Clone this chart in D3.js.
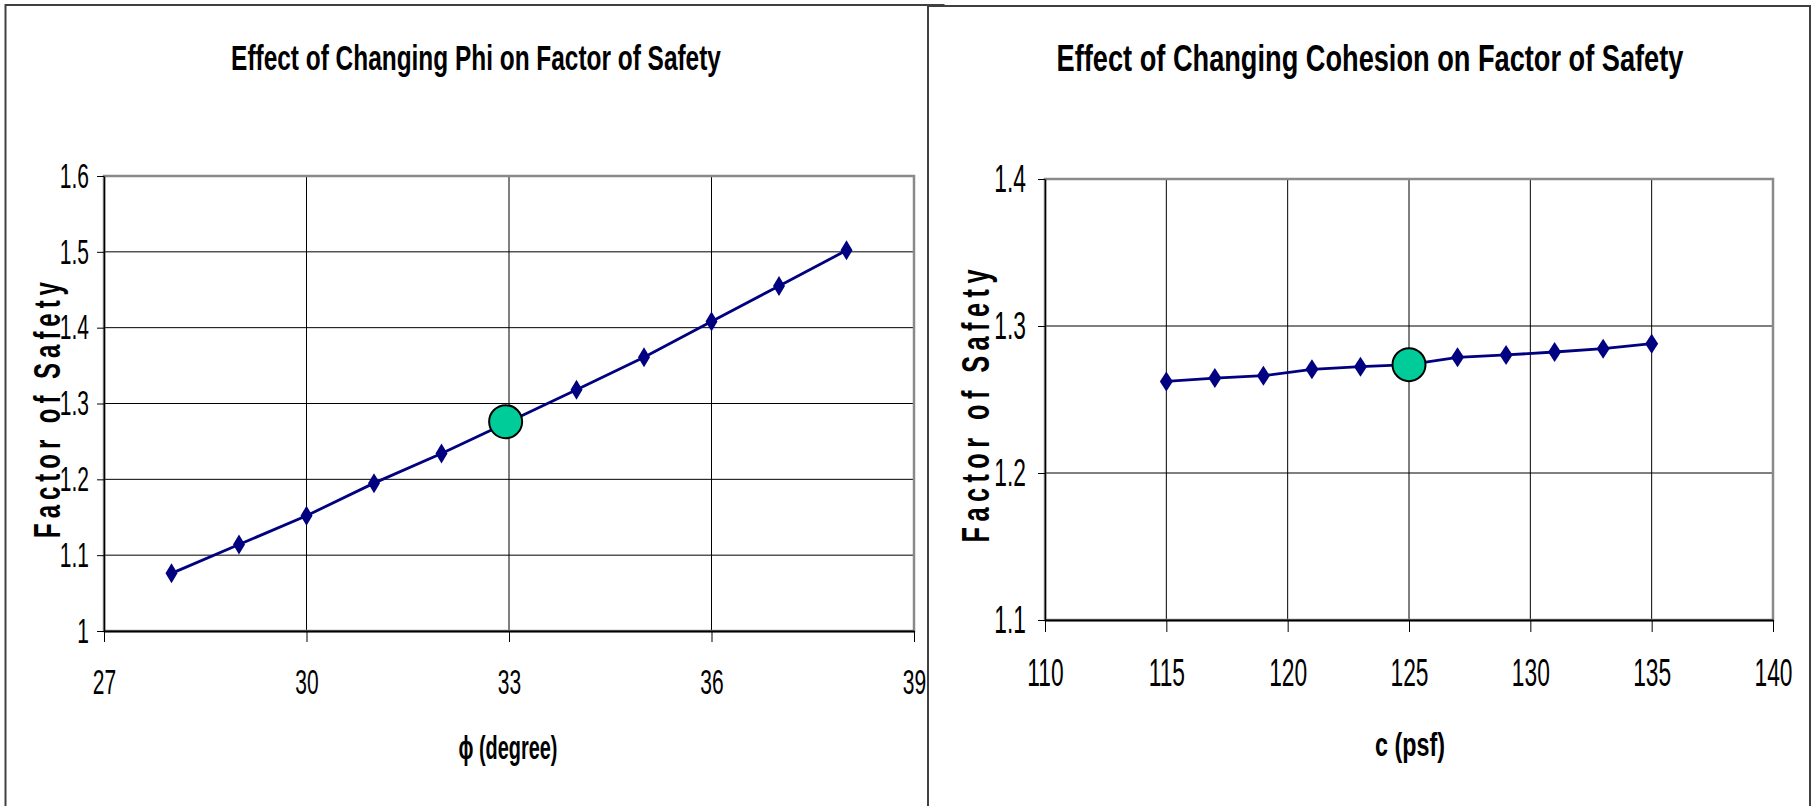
<!DOCTYPE html>
<html>
<head>
<meta charset="utf-8">
<script src="https://cdn.jsdelivr.net/npm/d3@7"></script>
<style>
  body { margin: 0; background: #fff; }
  svg { display: block; font-family: "Liberation Sans", Arial, sans-serif; }
</style>
</head>
<body>
<svg id="chart" width="1814" height="806"></svg>
<script>
// left chart: friction angle vs factor of safety
const phiValues = [28, 29, 30, 31, 32, 33, 34, 35, 36, 37, 38];
const phiFos = [1.076, 1.114, 1.152, 1.195, 1.234, 1.276, 1.318, 1.361, 1.408, 1.455, 1.502];
const phiBase = [32.95, 1.276];
const phiTicks = [27, 30, 33, 36, 39];
const phiFosTicks = [1, 1.1, 1.2, 1.3, 1.4, 1.5, 1.6];

// right chart: cohesion vs factor of safety
const cValues = [115, 117, 119, 121, 123, 125, 127, 129, 131, 133, 135];
const cFos = [1.2623, 1.2646, 1.2662, 1.2705, 1.2723, 1.2737, 1.2787, 1.2803, 1.2823, 1.2846, 1.288];
const cBase = [125, 1.2737];
const cTicks = [110, 115, 120, 125, 130, 135, 140];
const cFosTicks = [1.1, 1.2, 1.3, 1.4];

const svg = d3.select('#chart');
const K = 0.6; // narrow glyphs like the original

// panel frames
svg.append('rect')
  .attr('x', 5.5).attr('y', 5).attr('width', 938).attr('height', 820)
  .attr('fill', '#fff').attr('stroke', '#404040').attr('stroke-width', 2);
svg.append('rect')
  .attr('x', 928).attr('y', 6).attr('width', 882).attr('height', 820)
  .attr('fill', '#fff').attr('stroke', '#404040').attr('stroke-width', 2);

function squeeze(sel) {
  sel.each(function () {
    const t = d3.select(this);
    const x = +t.attr('x') || 0;
    t.attr('x', x / K).attr('transform', `scale(${K},1)`);
  });
}

// bold text squeezed to a given width, centred on cx
function narrowText(g, str, cx, y, size, width) {
  const t = g.append('text')
    .attr('text-anchor', 'middle')
    .attr('font-size', size).attr('font-weight', 'bold')
    .text(str);
  const k = width / t.node().getComputedTextLength();
  t.attr('transform', `translate(${cx},${y}) scale(${k},1)`);
  return t;
}

function drawChart(o) {
  const x = d3.scaleLinear().domain(o.xDomain).range([o.left, o.right]);
  const y = d3.scaleLinear().domain(o.yDomain).range([o.bottom, o.top]);
  const g = svg.append('g');

  // gridlines
  g.append('g').selectAll('line').data(o.yTicks).join('line')
    .attr('x1', o.left).attr('x2', o.right)
    .attr('y1', (d) => y(d)).attr('y2', (d) => y(d))
    .attr('stroke', '#000').attr('stroke-width', 1);
  g.append('g').selectAll('line').data(o.xTicks).join('line')
    .attr('x1', (d) => x(d)).attr('x2', (d) => x(d))
    .attr('y1', o.top).attr('y2', o.bottom)
    .attr('stroke', '#000').attr('stroke-width', 1);

  // plot area border
  g.append('rect')
    .attr('x', o.left).attr('y', o.top)
    .attr('width', o.right - o.left).attr('height', o.bottom - o.top)
    .attr('fill', 'none').attr('stroke', '#8a8a8a').attr('stroke-width', 2.5);

  // y axis
  const yAxis = g.append('g')
    .attr('transform', `translate(${o.left},0)`)
    .call(d3.axisLeft(y).tickValues(o.yTicks).tickSize(7).tickSizeOuter(0)
      .tickPadding(o.yPad).tickFormat(d3.format('')));
  yAxis.select('.domain').attr('stroke', '#000').attr('stroke-width', 1.5);
  yAxis.selectAll('.tick line').attr('stroke', '#000');
  yAxis.selectAll('text').attr('font-size', o.tickFont).attr('fill', '#000')
    .attr('font-family', '"Liberation Sans", Arial, sans-serif').call(squeeze);

  // x axis
  const xAxis = g.append('g')
    .attr('transform', `translate(0,${o.bottom})`)
    .call(d3.axisBottom(x).tickValues(o.xTicks).tickSize(o.xTick).tickSizeOuter(0)
      .tickPadding(o.xPad).tickFormat(d3.format('')));
  xAxis.select('.domain').attr('stroke', '#000').attr('stroke-width', 2);
  xAxis.selectAll('.tick line').attr('stroke', '#000');
  xAxis.selectAll('text').attr('font-size', o.tickFont).attr('fill', '#000')
    .attr('font-family', '"Liberation Sans", Arial, sans-serif').call(squeeze);

  // series line
  const pts = o.xs.map((v, i) => [v, o.ys[i]]);
  const line = d3.line().x((d) => x(d[0])).y((d) => y(d[1]));
  g.append('path')
    .datum(pts)
    .attr('d', line)
    .attr('fill', 'none')
    .attr('stroke', '#000080')
    .attr('stroke-width', 2.8);

  // diamond markers
  const w = o.dw / 2;
  g.append('g').selectAll('path').data(pts).join('path')
    .attr('d', `M0,-10L${w},0L0,10L${-w},0Z`)
    .attr('transform', (d) => `translate(${x(d[0])},${y(d[1])})`)
    .attr('fill', '#000080');

  // base case point
  g.append('circle')
    .attr('cx', x(o.base[0])).attr('cy', y(o.base[1]))
    .attr('r', 16.5)
    .attr('fill', '#00cc99')
    .attr('stroke', '#000')
    .attr('stroke-width', 2);

  narrowText(g, o.title, o.titleX, o.titleY, 36, o.titleLen);
  narrowText(g, o.xLabel, o.xLabelX, o.xLabelY, 33, o.xLabelLen);

  // y label, narrow letters with wide spacing
  g.append('text')
    .attr('transform', `translate(${o.yLabelX},${o.yLabelY}) rotate(-90) scale(0.65,1)`)
    .attr('text-anchor', 'middle')
    .attr('font-size', o.yLabelFont).attr('font-weight', 'bold')
    .attr('textLength', o.yLabelLen / 0.65).attr('lengthAdjust', 'spacing')
    .text('Factor of Safety');
}

drawChart({
  xDomain: [27, 39], yDomain: [1, 1.6],
  left: 104, right: 914, top: 176, bottom: 631,
  xTicks: phiTicks, yTicks: phiFosTicks,
  xs: phiValues, ys: phiFos, base: phiBase,
  tickFont: 35, yPad: 8, xTick: 11, xPad: 27, dw: 12,
  title: 'Effect of Changing Phi on Factor of Safety',
  titleX: 476, titleY: 70, titleLen: 490,
  xLabel: 'ϕ (degree)', xLabelX: 508, xLabelY: 759, xLabelLen: 99,
  yLabelX: 60, yLabelY: 410, yLabelLen: 256, yLabelFont: 37,
});

drawChart({
  xDomain: [110, 140], yDomain: [1.1, 1.4],
  left: 1045, right: 1773, top: 179, bottom: 620,
  xTicks: cTicks, yTicks: cFosTicks,
  xs: cValues, ys: cFos, base: cBase,
  tickFont: 38, yPad: 12, xTick: 12, xPad: 27, dw: 13,
  title: 'Effect of Changing Cohesion on Factor of Safety',
  titleX: 1370, titleY: 71, titleLen: 627,
  xLabel: 'c (psf)', xLabelX: 1410, xLabelY: 756, xLabelLen: 70,
  yLabelX: 989, yLabelY: 406, yLabelLen: 273, yLabelFont: 39,
});
</script>
</body>
</html>
